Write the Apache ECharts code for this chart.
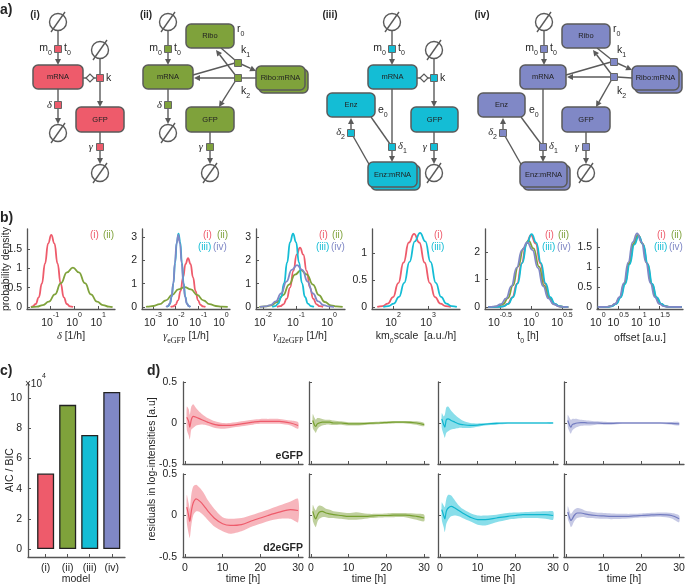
<!DOCTYPE html>
<html><head><meta charset="utf-8">
<script src="https://cdn.jsdelivr.net/npm/echarts@6/dist/echarts.min.js"></script>
<style>html,body{margin:0;padding:0;background:#fff}#c{width:685px;height:586px}</style>
</head><body><div id="c"></div>
<script>
// ---------------- DATA ----------------
// panel b: x = log10(parameter value), y = probability density
const deltaRed = [[-1.78,0.0],[-1.73,0.02],[-1.60,0.08],[-1.47,0.25],[-1.34,0.61],[-1.21,1.13],[-1.08,1.65],[-0.95,1.87],[-0.82,1.65],[-0.69,1.13],[-0.56,0.61],[-0.43,0.25],[-0.30,0.08],[-0.17,0.02],[-0.04,0.0]];
const deltaGreen = [[-1.8,0.0],[-1.55,0.01],[-1.30,0.05],[-1.05,0.14],[-0.80,0.33],[-0.55,0.62],[-0.30,0.90],[-0.05,1.02],[0.20,0.90],[0.45,0.62],[0.70,0.33],[0.95,0.14],[1.20,0.05],[1.45,0.01],[1.60,0.0]];
const gEGFPRed = [[-2.22,0.0],[-2.11,0.02],[-2.0,0.09],[-1.89,0.28],[-1.78,0.68],[-1.67,1.27],[-1.56,1.85],[-1.45,2.1],[-1.34,1.85],[-1.23,1.27],[-1.12,0.68],[-1.01,0.28],[-0.90,0.09],[-0.79,0.02],[-0.68,0.0]];
const gEGFPGreen = [[-3.3,0.0],[-3.25,0.01],[-2.975,0.04],[-2.7,0.12],[-2.425,0.28],[-2.15,0.52],[-1.875,0.75],[-1.6,0.85],[-1.325,0.75],[-1.05,0.52],[-0.775,0.28],[-0.5,0.12],[-0.225,0.04],[0.05,0.01],[0.3,0.0]];
const gEGFPCyan = [[-2.40,0.0],[-2.32,0.035],[-2.245,0.14],[-2.17,0.43],[-2.095,1.02],[-2.02,1.91],[-1.945,2.78],[-1.87,3.15],[-1.795,2.78],[-1.72,1.91],[-1.645,1.02],[-1.57,0.43],[-1.495,0.14],[-1.42,0.035],[-1.345,0.0]];
const gEGFPPurple = [[-2.42,0.0],[-2.34,0.035],[-2.26,0.14],[-2.18,0.43],[-2.10,1.0],[-2.03,1.88],[-1.955,2.73],[-1.88,3.1],[-1.805,2.73],[-1.73,1.88],[-1.655,1.0],[-1.58,0.43],[-1.50,0.14],[-1.42,0.035],[-1.34,0.0]];
const gD2Red = [[-1.58,0.0],[-1.48,0.03],[-1.38,0.11],[-1.28,0.35],[-1.18,0.83],[-1.08,1.55],[-0.98,2.25],[-0.88,2.55],[-0.78,2.25],[-0.68,1.55],[-0.58,0.83],[-0.48,0.35],[-0.38,0.11],[-0.28,0.03],[-0.18,0.0]];
const gD2Green = [[-2.11,0.0],[-1.93,0.02],[-1.75,0.07],[-1.57,0.21],[-1.39,0.51],[-1.21,0.96],[-1.03,1.39],[-0.85,1.58],[-0.67,1.39],[-0.49,0.96],[-0.31,0.51],[-0.13,0.21],[0.05,0.07],[0.23,0.02],[0.41,0.0]];
const gD2Cyan = [[-1.72,0.0],[-1.63,0.035],[-1.54,0.14],[-1.45,0.43],[-1.36,1.02],[-1.27,1.91],[-1.18,2.78],[-1.09,3.15],[-1.0,2.78],[-0.91,1.91],[-0.82,1.02],[-0.73,0.43],[-0.64,0.14],[-0.55,0.035],[-0.46,0.0]];
const gD2Purple = [[-2.09,0.0],[-1.93,0.02],[-1.77,0.08],[-1.61,0.24],[-1.45,0.58],[-1.29,1.09],[-1.13,1.59],[-0.97,1.8],[-0.81,1.59],[-0.65,1.09],[-0.49,0.58],[-0.33,0.24],[-0.17,0.08],[-0.01,0.02],[0.15,0.0]];
const kmRed = [[1.55,0.0],[1.7,0.015],[1.85,0.06],[2.0,0.18],[2.15,0.44],[2.3,0.82],[2.45,1.19],[2.6,1.35],[2.75,1.19],[2.9,0.82],[3.05,0.44],[3.2,0.18],[3.35,0.06],[3.5,0.015],[3.65,0.0]];
const kmCyan = [[1.72,0.0],[1.87,0.015],[2.02,0.06],[2.17,0.185],[2.32,0.445],[2.47,0.83],[2.62,1.21],[2.77,1.37],[2.92,1.21],[3.07,0.83],[3.22,0.445],[3.37,0.185],[3.52,0.06],[3.67,0.015],[3.82,0.0]];
const t0Red = [[-0.69,0.0],[-0.525,0.005],[-0.45,0.03],[-0.375,0.115],[-0.3,0.355],[-0.225,0.85],[-0.15,1.59],[-0.075,2.31],[0.0,2.62],[0.075,2.31],[0.15,1.59],[0.225,0.85],[0.3,0.355],[0.375,0.115],[0.45,0.03],[0.525,0.005],[0.6,0.0]];
const t0Green = [[-0.69,0.0],[-0.62,0.005],[-0.54,0.027],[-0.45,0.106],[-0.37,0.327],[-0.29,0.786],[-0.21,1.468],[-0.12,2.136],[-0.04,2.42],[0.04,2.136],[0.13,1.468],[0.21,0.786],[0.29,0.327],[0.37,0.106],[0.46,0.027],[0.54,0.005],[0.6,0.0]];
const t0Cyan = [[-0.69,0.0],[-0.515,0.005],[-0.44,0.03],[-0.365,0.116],[-0.29,0.36],[-0.215,0.86],[-0.14,1.61],[-0.065,2.34],[0.01,2.65],[0.085,2.34],[0.16,1.61],[0.235,0.86],[0.31,0.36],[0.385,0.116],[0.46,0.03],[0.535,0.005],[0.6,0.0]];
const t0Purple = [[-0.69,0.0],[-0.655,0.005],[-0.57,0.026],[-0.485,0.103],[-0.4,0.318],[-0.315,0.763],[-0.23,1.425],[-0.145,2.074],[-0.06,2.35],[0.025,2.074],[0.11,1.425],[0.195,0.763],[0.28,0.318],[0.365,0.103],[0.45,0.026],[0.535,0.005],[0.6,0.0]];
const offRed = [[0.0,0.0],[0.22,0.004],[0.33,0.02],[0.44,0.079],[0.55,0.242],[0.66,0.582],[0.77,1.087],[0.88,1.579],[0.99,1.79],[1.10,1.579],[1.21,1.087],[1.32,0.582],[1.43,0.242],[1.54,0.079],[1.65,0.02],[1.76,0.004],[2.05,0.0]];
const offGreen = [[0.0,0.0],[0.21,0.004],[0.32,0.02],[0.43,0.079],[0.54,0.243],[0.65,0.585],[0.76,1.093],[0.87,1.588],[0.98,1.8],[1.09,1.588],[1.20,1.093],[1.31,0.585],[1.42,0.243],[1.53,0.079],[1.64,0.02],[1.75,0.004],[2.05,0.0]];
const offCyan = [[0.0,0.0],[0.23,0.004],[0.34,0.019],[0.45,0.078],[0.56,0.239],[0.67,0.575],[0.78,1.074],[0.89,1.561],[1.0,1.77],[1.11,1.561],[1.22,1.074],[1.33,0.575],[1.44,0.239],[1.55,0.078],[1.66,0.019],[1.77,0.004],[2.05,0.0]];
const offPurple = [[0.0,0.0],[0.204,0.004],[0.312,0.02],[0.42,0.081],[0.528,0.248],[0.636,0.598],[0.744,1.117],[0.852,1.623],[0.96,1.84],[1.068,1.623],[1.176,1.117],[1.284,0.598],[1.392,0.248],[1.5,0.081],[1.608,0.02],[1.716,0.004],[2.05,0.0]];

// panel b tick values (log10 exponents) and density ticks
const deltaTicks = [-1, 0, 1];
const gEGFPTicks = [-3, -2, -1, 0];
const gD2Ticks = [-2, -1, 0];
const kmTicks = [2, 3];
const t0Ticks = [-0.5, 0, 0.5];
const offTicks = [0, 0.5, 1, 1.5];
const dens1Ticks = [0, 0.5, 1, 1.5];
const dens2Ticks = [0, 1, 2, 3];
const dens4Ticks = [0, 0.5, 1];
const dens5Ticks = [0, 1, 2];

// panel c
const models = ['(i)', '(ii)', '(iii)', '(iv)'];
const aicBic = [5.0, 9.55, 7.55, 10.4];   // x 10^4
const aicTicks = [0, 2, 4, 6, 8, 10];

// panel d
const tHours = [0.5,1.0,1.3,1.7,2.2,3,4,5,6,8,10,12,15,18,20,22,25,28,30];
const timeTicks = [0, 10, 20, 30];
const resTicks = [-0.5, 0, 0.5];
const rE_mean = [0.07,0.02,-0.05,0.04,0.08,0.07,0.05,0.03,0.01,-0.02,-0.03,-0.03,-0.01,0.01,0.02,0.02,0.02,0.0,-0.03];
const rE_hi   = [0.20,0.17,0.10,0.20,0.23,0.18,0.13,0.09,0.06,0.02,0.0,0.0,0.02,0.04,0.05,0.05,0.05,0.03,0.01];
const rE_lo   = [-0.08,-0.15,-0.20,-0.08,-0.06,-0.03,-0.02,-0.02,-0.03,-0.06,-0.07,-0.06,-0.04,-0.02,-0.01,-0.01,-0.01,-0.03,-0.07];
const rD_mean = [0.10,0.0,-0.07,0.05,0.15,0.20,0.17,0.12,0.06,-0.04,-0.10,-0.12,-0.11,-0.06,-0.03,0.0,0.04,0.07,0.06];
const rD_hi   = [0.25,0.15,0.08,0.25,0.35,0.37,0.33,0.27,0.19,0.07,-0.02,-0.04,-0.03,0.01,0.04,0.07,0.12,0.17,0.20];
const rD_lo   = [-0.08,-0.22,-0.27,-0.12,0.0,0.05,0.04,0.0,-0.05,-0.14,-0.19,-0.22,-0.19,-0.13,-0.10,-0.07,-0.04,-0.04,-0.08];
const gE_mean = [0.03,-0.03,-0.04,-0.01,0.0,0.01,0.01,0.01,0.0,0.0,-0.01,-0.01,-0.005,0.0,0.005,0.01,0.01,0.0,-0.02];
const gE_hi   = [0.11,0.06,0.04,0.06,0.06,0.05,0.04,0.04,0.03,0.02,0.01,0.01,0.01,0.015,0.02,0.025,0.025,0.02,0.0];
const gE_lo   = [-0.06,-0.10,-0.12,-0.08,-0.05,-0.03,-0.02,-0.02,-0.025,-0.02,-0.03,-0.03,-0.02,-0.015,-0.01,-0.005,-0.005,-0.02,-0.04];
const gD_mean = [0.05,-0.02,-0.04,0.0,0.04,0.05,0.03,0.02,0.01,0.0,-0.01,-0.01,-0.01,0.0,0.0,0.005,0.005,-0.01,-0.03];
const gD_hi   = [0.13,0.08,0.06,0.10,0.12,0.11,0.08,0.07,0.05,0.04,0.03,0.04,0.02,0.02,0.025,0.03,0.03,0.02,0.01];
const gD_lo   = [-0.06,-0.12,-0.14,-0.08,-0.04,-0.02,-0.02,-0.03,-0.03,-0.04,-0.05,-0.05,-0.035,-0.025,-0.02,-0.02,-0.02,-0.05,-0.07];
const cE_mean = [0.05,-0.02,-0.05,0.04,0.05,0.03,0.01,-0.01,-0.02,-0.03,-0.025,-0.015,-0.005,0.0,0.0,0.0,0.0,0.0,0.0];
const cE_hi   = [0.12,0.08,0.10,0.19,0.20,0.15,0.10,0.06,0.03,0.0,-0.005,0.0,0.01,0.01,0.01,0.01,0.01,0.01,0.01];
const cE_lo   = [-0.06,-0.14,-0.18,-0.12,-0.10,-0.08,-0.07,-0.06,-0.06,-0.06,-0.045,-0.03,-0.02,-0.01,-0.01,-0.01,-0.01,-0.01,-0.01];
const cD_mean = [0.07,0.0,-0.04,0.05,0.09,0.11,0.09,0.06,0.03,-0.02,-0.05,-0.05,-0.03,-0.01,0.0,0.01,0.01,0.01,0.0];
const cD_hi   = [0.16,0.12,0.10,0.20,0.25,0.24,0.18,0.12,0.08,0.03,0.0,0.0,0.01,0.03,0.035,0.04,0.045,0.05,0.05];
const cD_lo   = [-0.05,-0.14,-0.20,-0.10,-0.05,-0.01,0.0,-0.01,-0.03,-0.07,-0.11,-0.12,-0.08,-0.05,-0.04,-0.03,-0.03,-0.04,-0.05];
const pE_mean = [0.03,-0.03,-0.05,-0.02,-0.01,0.0,0.005,0.005,0.0,0.0,-0.005,-0.005,0.0,0.0,0.0,0.0,0.0,-0.005,-0.01];
const pE_hi   = [0.10,0.06,0.04,0.05,0.05,0.05,0.04,0.035,0.03,0.02,0.015,0.012,0.012,0.012,0.012,0.012,0.012,0.012,0.01];
const pE_lo   = [-0.05,-0.11,-0.13,-0.09,-0.07,-0.05,-0.035,-0.03,-0.03,-0.02,-0.02,-0.02,-0.012,-0.012,-0.012,-0.012,-0.012,-0.02,-0.03];
const pD_mean = [0.04,-0.03,-0.06,-0.04,0.0,0.03,0.03,0.02,0.01,0.0,-0.005,-0.01,-0.01,-0.005,0.0,0.005,0.01,0.0,-0.04];
const pD_hi   = [0.11,0.05,0.02,0.04,0.07,0.09,0.08,0.06,0.05,0.035,0.03,0.025,0.02,0.02,0.025,0.03,0.035,0.03,0.0];
const pD_lo   = [-0.04,-0.10,-0.14,-0.12,-0.07,-0.03,-0.02,-0.02,-0.03,-0.035,-0.04,-0.045,-0.04,-0.03,-0.025,-0.02,-0.015,-0.035,-0.08];

// ---------------- STYLE ----------------
const FF = "'Liberation Sans', Arial, Helvetica, sans-serif";
const SERIF = "'Liberation Serif', 'DejaVu Serif', serif";
const AX = '#555555', TX = '#262626', LC = '#5a5a5a';
const RED = '#ee5b6b', GRN = '#7fa23b', CYN = '#14bdd5', PUR = '#8088c6';
const BAND = {red:'rgba(238,91,107,0.45)', grn:'rgba(127,162,59,0.5)', cyn:'rgba(20,189,213,0.5)', pur:'rgba(128,136,198,0.45)'};

const grids = [], xAxes = [], yAxes = [], series = [];
function axLine(){ return {show:true, onZero:false, lineStyle:{color:AX, width:1.3}}; }

// ---------- panel b ----------
const supRich = {
  b:{fontSize:10.5, fontFamily:FF, color:TX, lineHeight:17, verticalAlign:'bottom'},
  s:{fontSize:7, fontFamily:FF, color:TX, lineHeight:9, verticalAlign:'top'}
};
const bPlots = [
  {left:27, width:88, xr:[-1.96,1.7], xt:deltaTicks, yr:[-0.05,2.02], yt:dens1Ticks, c:[[deltaRed,RED],[deltaGreen,GRN]]},
  {left:142, width:88, xr:[-3.48,0.4], xt:gEGFPTicks, yr:[-0.09,3.35], yt:dens2Ticks, c:[[gEGFPRed,RED],[gEGFPGreen,GRN],[gEGFPCyan,CYN],[gEGFPPurple,PUR]]},
  {left:256, width:89, xr:[-2.21,0.48], xt:gD2Ticks, yr:[-0.09,3.35], yt:dens2Ticks, c:[[gD2Red,RED],[gD2Green,GRN],[gD2Cyan,CYN],[gD2Purple,PUR]]},
  {left:372, width:88, xr:[1.4,3.91], xt:kmTicks, yr:[-0.04,1.44], yt:dens4Ticks, c:[[kmRed,RED],[kmCyan,CYN]]},
  {left:485, width:87, xr:[-0.74,0.66], xt:t0Ticks, yr:[-0.07,2.84], yt:dens5Ticks, c:[[t0Red,RED],[t0Green,GRN],[t0Cyan,CYN],[t0Purple,PUR]]},
  {left:597, width:86, xr:[-0.02,2.08], xt:offTicks, yr:[-0.05,1.95], yt:dens1Ticks, c:[[offRed,RED],[offGreen,GRN],[offCyan,CYN],[offPurple,PUR]]}
];
bPlots.forEach(function(p){
  const gi = grids.length;
  grids.push({left:p.left, top:229, width:p.width, height:80, outerBoundsMode:'none'});
  xAxes.push({type:'value', gridIndex:gi, min:p.xr[0], max:p.xr[1], axisLine:axLine(), splitLine:{show:false},
    axisTick:{show:true, inside:true, length:3, lineStyle:{color:AX}, customValues:p.xt},
    axisLabel:{show:true, margin:3, customValues:p.xt, formatter:function(v){return '{b|10}{s|'+(Math.round(v*10)/10)+'}';}, rich:supRich}});
  yAxes.push({type:'value', gridIndex:gi, min:p.yr[0], max:p.yr[1], axisLine:axLine(), splitLine:{show:false},
    axisTick:{show:true, inside:true, length:3, lineStyle:{color:AX}, customValues:p.yt},
    axisLabel:{show:true, margin:5, customValues:p.yt, fontSize:10.5, fontFamily:FF, color:TX, formatter:function(v){return String(v);}}});
  p.c.forEach(function(cv){
    series.push({type:'line', xAxisIndex:gi, yAxisIndex:gi, data:cv[0], smooth:true, smoothMonotone:'x', showSymbol:false, symbol:'none',
      lineStyle:{color:cv[1], width:1.8}, silent:true, animation:false, z:3});
  });
});

// ---------- panel c ----------
(function(){
  const gi = grids.length;
  grids.push({left:28, top:384, width:97, height:173, outerBoundsMode:'none'});
  xAxes.push({type:'value', gridIndex:gi, min:0.2, max:4.6, axisLine:axLine(), splitLine:{show:false},
    axisTick:{show:true, inside:true, length:3, lineStyle:{color:AX}, customValues:[1,2,3,4]},
    axisLabel:{show:true, margin:6, customValues:[1,2,3,4], fontSize:10.5, fontFamily:FF, color:TX, formatter:function(v){return models[Math.round(v)-1];}}});
  yAxes.push({type:'value', gridIndex:gi, min:-0.53, max:10.93, axisLine:axLine(), splitLine:{show:false},
    axisTick:{show:true, inside:true, length:3, lineStyle:{color:AX}, customValues:aicTicks},
    axisLabel:{show:true, margin:6, customValues:aicTicks, fontSize:10.5, fontFamily:FF, color:TX}});
  const cols = [RED, GRN, CYN, PUR];
  series.push({type:'bar', xAxisIndex:gi, yAxisIndex:gi, barWidth:17, silent:true, animation:false,
    data: aicBic.map(function(v,i){return {value:[i+1, v], itemStyle:{color:cols[i], borderColor:'#222', borderWidth:1.3}};})});
})();

// ---------- panel d ----------
const dSets = [
  [rE_mean,rE_lo,rE_hi,RED,BAND.red], [gE_mean,gE_lo,gE_hi,'#77a030',BAND.grn], [cE_mean,cE_lo,cE_hi,'#0fb6cf',BAND.cyn], [pE_mean,pE_lo,pE_hi,'#737cc0',BAND.pur],
  [rD_mean,rD_lo,rD_hi,RED,BAND.red], [gD_mean,gD_lo,gD_hi,'#77a030',BAND.grn], [cD_mean,cD_lo,cD_hi,'#0fb6cf',BAND.cyn], [pD_mean,pD_lo,pD_hi,'#737cc0',BAND.pur]
];
const dLefts = [183, 309, 438, 564];
dSets.forEach(function(s, k){
  const row = k < 4 ? 0 : 1, col = k % 4;
  const gi = grids.length;
  grids.push({left:dLefts[col], top: row === 0 ? 382 : 474, width:120, height: row === 0 ? 82 : 83, outerBoundsMode:'none'});
  xAxes.push({type:'value', gridIndex:gi, min:-0.5, max:31.3, axisLine:axLine(), splitLine:{show:false},
    axisTick:{show:true, inside:true, length:3, lineStyle:{color:AX}, customValues:timeTicks},
    axisLabel:{show: row === 1, margin:6, customValues:timeTicks, fontSize:10.5, fontFamily:FF, color:TX}});
  yAxes.push({type:'value', gridIndex:gi, min:-0.5, max:0.5, axisLine:axLine(), splitLine:{show:false},
    axisTick:{show:true, inside:true, length:3, lineStyle:{color:AX}, customValues:resTicks},
    axisLabel:{show: col === 0, margin:6, customValues:resTicks, fontSize:10.5, fontFamily:FF, color:TX, formatter:function(v){return String(v);}}});
  const mean = s[0], lo = s[1], hi = s[2], bandCol = s[4];
  // confidence band: polygon through upper then lower bound, mapped by the axes
  series.push({type:'custom', xAxisIndex:gi, yAxisIndex:gi, data:[[15, 0]], silent:true, animation:false, z:2,
    renderItem:function(params, api){
      const pts = [];
      for (let i = 0; i < tHours.length; i++) pts.push(api.coord([tHours[i], hi[i]]));
      for (let i = tHours.length - 1; i >= 0; i--) pts.push(api.coord([tHours[i], lo[i]]));
      return {type:'polygon', shape:{points:pts, smooth:0.25}, style:{fill:bandCol, stroke:null}};
    }});
  series.push({type:'line', xAxisIndex:gi, yAxisIndex:gi, data:tHours.map(function(t,i){return [t, mean[i]];}),
    smooth:0.3, showSymbol:false, symbol:'none', lineStyle:{color:s[3], width:1.2}, silent:true, animation:false, z:4});
});

// ---------------- GRAPHIC (diagrams & texts) ----------------
const G = [];
function L(pts, z){ G.push({type:'polyline', silent:true, z:z||1, shape:{points:pts}, style:{stroke:LC, lineWidth:1.4, fill:null}}); }
function A(x1,y1,x2,y2){
  const dx=x2-x1, dy=y2-y1, len=Math.hypot(dx,dy), ux=dx/len, uy=dy/len, al=6, aw=3;
  const bx=x2-ux*al, by=y2-uy*al;
  L([[x1,y1],[bx,by]]);
  G.push({type:'polygon', silent:true, z:2, shape:{points:[[x2,y2],[bx-uy*aw,by+ux*aw],[bx+uy*aw,by-ux*aw]]}, style:{fill:LC}});
}
function box(x1,y1,x2,y2,col,txt,st){
  if (st) G.push({type:'rect', silent:true, z:3, shape:{x:x1+3,y:y1+3,width:x2-x1,height:y2-y1,r:5}, style:{fill:col, stroke:LC, lineWidth:1.5}});
  G.push({type:'rect', silent:true, z:4, shape:{x:x1,y:y1,width:x2-x1,height:y2-y1,r:5}, style:{fill:col, stroke:LC, lineWidth:1.5}});
  G.push({type:'text', silent:true, z:5, x:(x1+x2)/2, y:(y1+y2)/2, style:{text:txt, fontSize:7.5, fontFamily:FF, fill:'#222', align:'center', verticalAlign:'middle'}});
}
function phi(cx,cy){
  G.push({type:'circle', silent:true, z:3, shape:{cx:cx, cy:cy, r:8.5}, style:{fill:'#fff', stroke:LC, lineWidth:1.4}});
  L([[cx-7,cy+10],[cx+7,cy-10]], 4);
}
function sq(cx,cy,col){ G.push({type:'rect', silent:true, z:6, shape:{x:cx-3.5,y:cy-3.5,width:7,height:7}, style:{fill:col, stroke:'#666', lineWidth:1}}); }
function dia(cx,cy){ G.push({type:'polygon', silent:true, z:6, shape:{points:[[cx-4,cy],[cx,cy-4],[cx+4,cy],[cx,cy+4]]}, style:{fill:'#fff', stroke:LC, lineWidth:1.2}}); }
const subRich = {
  m:{fontSize:10.5, fontFamily:FF, fill:TX, lineHeight:14, verticalAlign:'top'},
  g:{fontSize:10.5, fontFamily:SERIF, fontStyle:'italic', fill:TX, lineHeight:14, verticalAlign:'top'},
  s:{fontSize:7, fontFamily:FF, fill:TX, lineHeight:9, verticalAlign:'bottom'},
  gs:{fontSize:8, fontFamily:SERIF, fill:TX, lineHeight:10, verticalAlign:'bottom'},
  sup:{fontSize:7, fontFamily:FF, fill:TX, lineHeight:9, verticalAlign:'top'},
  mb:{fontSize:10, fontFamily:FF, fill:TX, lineHeight:16, verticalAlign:'bottom'}
};
function T(x,y,text,o){
  o = o || {};
  G.push({type:'text', silent:true, z:10, x:x, y:y, rotation:o.rot||0,
    style:{text:text, fontSize:o.fs||10.5, fontFamily:o.ff||FF, fontWeight:o.fw||'normal', fontStyle:o.fst||'normal',
      fill:o.c||TX, align:o.al||'center', verticalAlign:o.va||'middle', rich:subRich}});
}
function TS(x,y,main,sub,al){ T(x,y,'{m|'+main+'}{s|'+sub+'}',{al:al}); }

// ---- diagram (i)
phi(58,22); A(58,31,58,65); sq(58,49,RED); TS(52,50,'m','0','right'); TS(64,50,'t','0','left');
box(33,65,83,89,RED,'mRNA');
A(58,89,58,124); sq(58,105,RED); T(52,105,'δ',{ff:SERIF, fst:'italic', al:'right'}); phi(58,133);
phi(100,50); A(100,59,100,107); L([[83,78],[86,78]]); dia(90,78); L([[94,78],[97,78]]); sq(100,78,RED); T(106,78,'k',{al:'left'});
box(76,107,124,132,RED,'GFP'); A(100,132,100,164); sq(100,147,RED); T(93,147,'γ',{ff:SERIF, fst:'italic', al:'right'}); phi(100,173);

// ---- diagram (ii)
phi(168,22); A(168,31,168,65); sq(168,49,GRN); TS(162,50,'m','0','right'); TS(174,50,'t','0','left');
box(143,65,193,89,GRN,'mRNA');
A(168,89,168,124); sq(168,105,GRN); T(162,105,'δ',{ff:SERIF, fst:'italic', al:'right'}); phi(168,133);
box(186,24,234,48,GRN,'Ribo'); TS(237,31,'r','0','left');
box(256,66,305,90,GRN,'Ribo:mRNA',true);
L([[193,75],[235,63]]); L([[221,48],[236,61]]); A(241,64,256,71); L([[256,78],[241,78]]);
A(235,78,194,78); A(236,76,216,50); A(236,80,219,107);
sq(238,63,GRN); sq(238,78,GRN); TS(241,52,'k','1','left'); TS(241,93,'k','2','left');
box(186,107,234,132,GRN,'GFP'); A(210,132,210,164); sq(210,147,GRN); T(203,147,'γ',{ff:SERIF, fst:'italic', al:'right'}); phi(210,173);

// ---- diagram (iii)
phi(392,22); A(392,31,392,65); sq(392,49,CYN); TS(386,50,'m','0','right'); TS(398,50,'t','0','left');
box(368,65,417,89,CYN,'mRNA');
A(392,89,392,162); sq(392,147,CYN); T(398,148,'{g|δ}{s|1}',{al:'left'});
phi(434,50); A(434,59,434,107); L([[417,78],[420,78]]); dia(424,78); L([[428,78],[431,78]]); sq(434,78,CYN); T(440,78,'k',{al:'left'});
box(411,107,458,132,CYN,'GFP'); A(434,132,434,164); sq(434,147,CYN); T(427,147,'γ',{ff:SERIF, fst:'italic', al:'right'}); phi(434,173);
box(327,93,375,117,CYN,'Enz'); TS(378,112,'e','0','left');
L([[371,117],[390,144]]);
box(368,162,417,187,CYN,'Enz:mRNA',true);
sq(351,133,CYN); A(351,129,351,118); L([[353,136],[370,166]]); T(345,134,'{g|δ}{s|2}',{al:'right'});

// ---- diagram (iv)
phi(544,22); A(544,31,544,65); sq(544,49,PUR); TS(538,50,'m','0','right'); TS(550,50,'t','0','left');
box(520,65,566,89,PUR,'mRNA');
A(543,89,543,162); sq(543,147,PUR); T(549,148,'{g|δ}{s|1}',{al:'left'});
box(562,24,610,48,PUR,'Ribo'); TS(613,31,'r','0','left');
box(632,66,679,90,PUR,'Ribo:mRNA',true);
L([[566,75],[611,62]]); L([[597,48],[612,60]]); A(617,63,632,70); L([[632,78],[617,77]]);
A(611,77,567,77); A(612,75,593,50); A(612,79,596,107);
sq(614,62,PUR); sq(614,77,PUR); TS(617,52,'k','1','left'); TS(617,93,'k','2','left');
box(562,107,610,132,PUR,'GFP'); A(586,132,586,164); sq(586,147,PUR); T(579,147,'γ',{ff:SERIF, fst:'italic', al:'right'}); phi(586,173);
box(478,93,525,117,PUR,'Enz'); TS(529,112,'e','0','left');
L([[521,117],[541,144]]);
box(520,162,567,187,PUR,'Enz:mRNA',true);
sq(503,133,PUR); A(503,129,503,118); L([[505,136],[522,166]]); T(497,134,'{g|δ}{s|2}',{al:'right'});

// diagram labels
T(35,15,'(i)',{fw:'bold', fs:10}); T(146,15,'(ii)',{fw:'bold', fs:10}); T(330,15,'(iii)',{fw:'bold', fs:10}); T(482,15,'(iv)',{fw:'bold', fs:10});
// panel labels
T(0,10,'a)',{fw:'bold', fs:14, al:'left'}); T(0,218,'b)',{fw:'bold', fs:14, al:'left'});
T(0,371,'c)',{fw:'bold', fs:14, al:'left'}); T(147,371,'d)',{fw:'bold', fs:14, al:'left'});

// panel b legends (left x of each label)
function lg(x,y,txt,c){ T(x,y,txt,{c:c, al:'left', fs:10}); }
lg(90,235,'(i)',RED); lg(103,235,'(ii)',GRN);
lg(203,235,'(i)',RED); lg(217,235,'(ii)',GRN); lg(198,247,'(iii)',CYN); lg(213,247,'(iv)',PUR);
lg(319,235,'(i)',RED); lg(332,235,'(ii)',GRN); lg(316,247,'(iii)',CYN); lg(331,247,'(iv)',PUR);
lg(434,235,'(i)',RED); lg(431,247,'(iii)',CYN);
lg(545,235,'(i)',RED); lg(558,235,'(ii)',GRN); lg(542,247,'(iii)',CYN); lg(557,247,'(iv)',PUR);
lg(657,235,'(i)',RED); lg(671,235,'(ii)',GRN); lg(654,247,'(iii)',CYN); lg(669,247,'(iv)',PUR);

// panel b axis titles
T(71,338,'{g|δ} {m|[1/h]}');
T(186,338,'{g|γ}{gs|eGFP} {m|[1/h]}');
T(300,338,'{g|γ}{gs|d2eGFP} {m|[1/h]}');
T(416,338,'{m|km}{s|0}{m|scale  [a.u./h]}');
T(528,338,'{m|t}{s|0}{m| [h]}');
T(640,338,'offset [a.u.]');
T(6,269,'probability density',{rot:Math.PI/2});

// panel c texts
T(25,381,'{mb|×10}{sup|4}',{al:'left'});
T(10,470,'AIC / BIC',{rot:Math.PI/2});
T(76,579,'model');

// panel d texts
T(303,456,'eGFP',{fw:'bold', al:'right', fs:10.5});
T(303,548,'d2eGFP',{fw:'bold', al:'right', fs:10.5});
T(152,469,'residuals in log-intensities [a.u]',{rot:Math.PI/2});
T(243,579,'time [h]'); T(369,579,'time [h]'); T(498,579,'time [h]'); T(624,579,'time [h]');

const option = {
  backgroundColor:'#fff', animation:false,
  textStyle:{fontFamily:FF},
  grid:grids, xAxis:xAxes, yAxis:yAxes, series:series,
  graphic:{elements:G}
};
const chart = echarts.init(document.getElementById('c'), null, {renderer:'canvas'});
chart.setOption(option);
</script></body></html>
